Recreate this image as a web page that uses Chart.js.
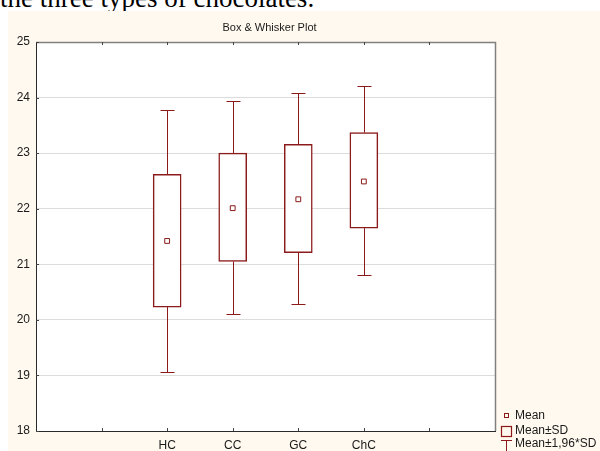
<!DOCTYPE html>
<html>
<head>
<meta charset="utf-8">
<script src="https://cdn.jsdelivr.net/npm/chart.js@4.4.1/dist/chart.umd.min.js"></script>
<style>
  html, body { margin: 0; padding: 0; background: #ffffff; width: 600px; height: 451px; overflow: hidden; position: relative; }
  .caption {
    position: absolute; left: 0; top: -15px;
    font-family: "Liberation Serif", "Times New Roman", serif;
    font-size: 27px; line-height: 27px; color: #000; white-space: nowrap;
  }
  .panel {
    position: absolute; left: 8px; top: 11px; width: 592px; height: 440px;
    background: #fff9ef;
  }
</style>
</head>
<body>
<div class="caption">the three types of chocolates.</div>
<div class="panel"><canvas id="c" width="592" height="440"></canvas></div>
<script>
// Groups and the x slot labels (empty slots pad both ends of the axis)
const categories = ['HC', 'CC', 'GC', 'ChC'];
const slotLabels = ['', '', 'HC', 'CC', 'GC', 'ChC', '', ''];

// Summary statistics per group
const means   = [21.42, 22.01, 22.17, 22.49];
const sdLow   = [20.23, 21.05, 21.21, 21.65];   // Mean - SD
const sdHigh  = [22.62, 23.00, 23.16, 23.37];   // Mean + SD
const ciLow   = [19.07, 20.11, 20.28, 20.80];   // Mean - 1.96*SD
const ciHigh  = [23.78, 23.93, 24.09, 24.21];   // Mean + 1.96*SD

// Value axis
const yTicks = [18, 19, 20, 21, 22, 23, 24, 25];

const RED = '#8b1a1a';
const FONT = '"Liberation Sans", Arial, sans-serif';

const slotOf = i => slotLabels.indexOf(categories[i]);

const boxData = categories.map((c, i) => ({ x: slotOf(i), y: [sdLow[i], sdHigh[i]] }));
const meanData = categories.map((c, i) => ({ x: slotOf(i), y: means[i] }));

// Whiskers, frame, inward tick marks, title and legend
const decorations = {
  id: 'decorations',
  beforeDraw(chart) {
    const { ctx, chartArea: a } = chart;
    ctx.save();
    ctx.fillStyle = '#ffffff';
    ctx.fillRect(a.left, a.top, a.right - a.left, a.bottom - a.top);
    ctx.restore();
  },
  afterDatasetsDraw(chart) {
    const { ctx, scales: { x, y } } = chart;
    const meta = chart.getDatasetMeta(0);
    ctx.save();
    ctx.strokeStyle = RED;
    ctx.lineWidth = 1;
    meta.data.forEach((bar, i) => {
      const cx = Math.round(bar.x) + 0.5;
      const capHalf = 7;
      const yTopBox = y.getPixelForValue(sdHigh[i]);
      const yBotBox = y.getPixelForValue(sdLow[i]);
      const yHi = Math.round(y.getPixelForValue(ciHigh[i])) + 0.5;
      const yLo = Math.round(y.getPixelForValue(ciLow[i])) + 0.5;
      ctx.beginPath();
      ctx.moveTo(cx, yHi); ctx.lineTo(cx, yTopBox);
      ctx.moveTo(cx, yBotBox); ctx.lineTo(cx, yLo);
      ctx.moveTo(cx - capHalf, yHi); ctx.lineTo(cx + capHalf, yHi);
      ctx.moveTo(cx - capHalf, yLo); ctx.lineTo(cx + capHalf, yLo);
      ctx.stroke();
    });
    ctx.restore();
  },
  afterDraw(chart) {
    const { ctx, chartArea: a, scales: { x, y } } = chart;
    ctx.save();
    // frame
    ctx.lineWidth = 1.5;
    ctx.strokeStyle = '#808080';
    ctx.beginPath();
    ctx.moveTo(a.left, a.top + 0.5); ctx.lineTo(a.right + 0.5, a.top + 0.5);
    ctx.lineTo(a.right + 0.5, a.bottom);
    ctx.stroke();
    ctx.lineWidth = 1;
    ctx.strokeStyle = '#2a2a2a';
    ctx.beginPath();
    ctx.moveTo(a.left + 0.5, a.top); ctx.lineTo(a.left + 0.5, a.bottom + 0.5);
    ctx.lineTo(a.right + 1, a.bottom + 0.5);
    ctx.stroke();
    // inward tick marks
    ctx.strokeStyle = '#444';
    ctx.beginPath();
    for (let k = 1; k < slotLabels.length - 1; k++) {
      const px = Math.round(x.getPixelForValue(k)) + 0.5;
      ctx.moveTo(px, a.top); ctx.lineTo(px, a.top + 3);
      ctx.moveTo(px, a.bottom); ctx.lineTo(px, a.bottom - 3);
    }
    yTicks.forEach(v => {
      const py = Math.round(y.getPixelForValue(v)) + 0.5;
      ctx.moveTo(a.left, py); ctx.lineTo(a.left + 3, py);
    });
    ctx.stroke();
    // title
    ctx.fillStyle = '#1a1a1a';
    ctx.font = '11px ' + FONT;
    ctx.textAlign = 'center';
    ctx.textBaseline = 'middle';
    ctx.fillText('Box & Whisker Plot', (a.left + a.right) / 2 + 4, 17);
    // legend
    const lx = a.right + 6;
    const tx = a.right + 20;
    ctx.font = '12px ' + FONT;
    ctx.textAlign = 'left';
    ctx.strokeStyle = RED;
    ctx.lineWidth = 1;
    ctx.strokeRect(lx + 3.5, a.bottom - 17.5, 4, 4);
    ctx.fillText('Mean', tx, a.bottom - 15);
    ctx.lineWidth = 1.2;
    ctx.strokeRect(lx + 0.5, a.bottom - 4.5, 10, 10);
    ctx.fillText('Mean\u00b1SD', tx, a.bottom);
    ctx.lineWidth = 1;
    ctx.beginPath();
    ctx.moveTo(lx, a.bottom + 9.5); ctx.lineTo(lx + 11, a.bottom + 9.5);
    ctx.moveTo(lx + 5.5, a.bottom + 9.5); ctx.lineTo(lx + 5.5, a.bottom + 22);
    ctx.stroke();
    ctx.fillText('Mean\u00b11,96*SD', tx, a.bottom + 13);
    ctx.restore();
  }
};

new Chart(document.getElementById('c'), {
  data: {
    datasets: [
      {
        type: 'bar',
        data: boxData,
        backgroundColor: '#ffffff',
        borderColor: RED,
        borderWidth: 1.5,
        borderSkipped: false,
        barThickness: 28,
        order: 2
      },
      {
        type: 'scatter',
        data: meanData,
        pointStyle: 'rect',
        pointRadius: 3.4,
        backgroundColor: '#ffffff',
        borderColor: RED,
        borderWidth: 1,
        order: 1
      }
    ]
  },
  plugins: [decorations],
  options: {
    responsive: false,
    animation: false,
    events: [],
    layout: { padding: { top: 31, right: 105, left: 0, bottom: 0 } },
    plugins: { legend: { display: false }, tooltip: { enabled: false }, title: { display: false } },
    scales: {
      x: {
        type: 'linear',
        offset: false,
        min: 0,
        max: slotLabels.length - 1,
        afterBuildTicks(scale) {
          scale.ticks = slotLabels.map((l, k) => ({ value: k }));
        },
        afterFit(scale) { scale.height = 20; },
        grid: { display: false, drawTicks: false, offset: false },
        border: { display: false },
        ticks: {
          autoSkip: false,
          maxRotation: 0,
          padding: 7,
          color: '#1a1a1a',
          font: { family: FONT, size: 12 },
          callback: v => slotLabels[v] || ''
        }
      },
      y: {
        type: 'linear',
        min: yTicks[0],
        max: yTicks[yTicks.length - 1],
        afterBuildTicks(scale) {
          scale.ticks = yTicks.map(v => ({ value: v }));
        },
        afterFit(scale) { scale.width = 28; },
        grid: { color: '#dcdcdc', lineWidth: 1, drawTicks: false },
        border: { display: false },
        ticks: {
          padding: 6,
          color: '#1a1a1a',
          font: { family: FONT, size: 12 }
        }
      }
    }
  }
});
</script>
</body>
</html>
